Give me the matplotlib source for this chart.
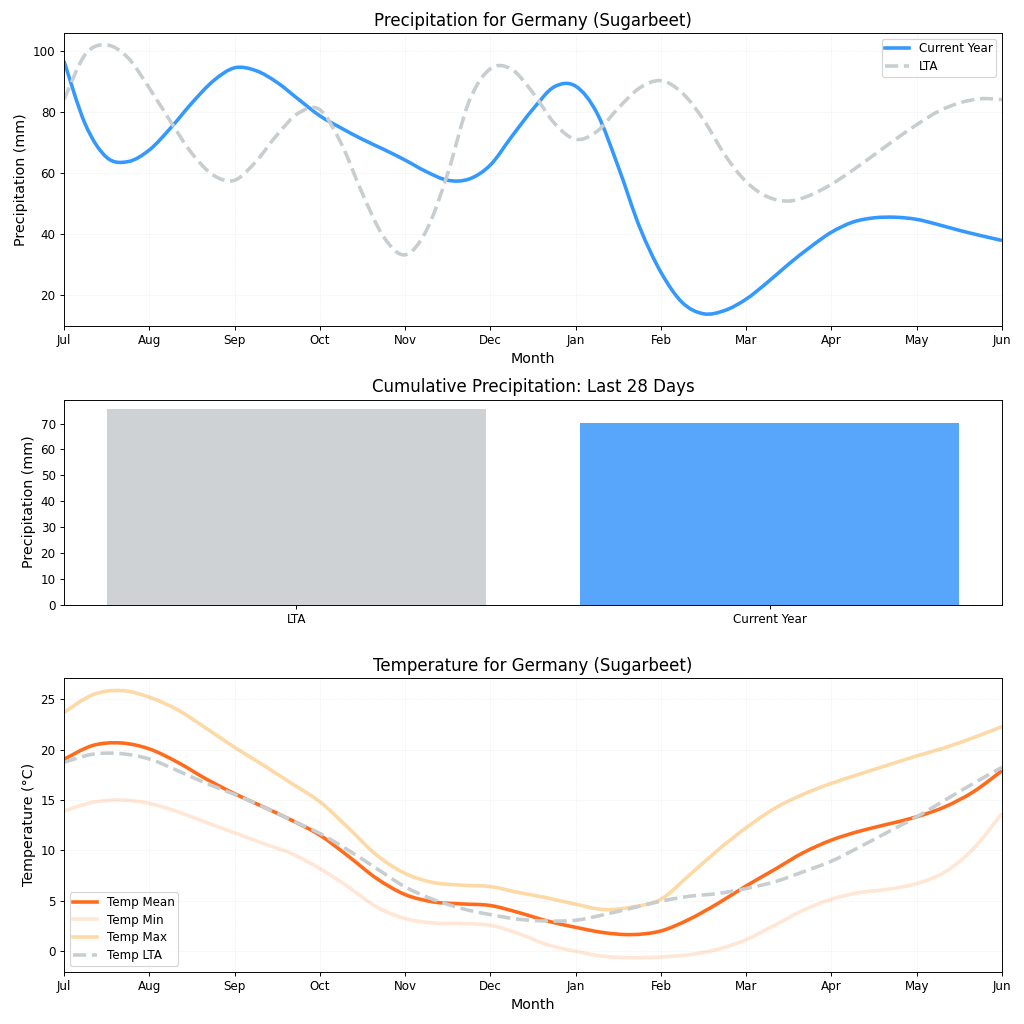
import numpy as np
import matplotlib
matplotlib.use("Agg")
import matplotlib.pyplot as plt
from matplotlib.lines import Line2D
from matplotlib.patches import PathPatch
from matplotlib.path import Path

months = ["Jul", "Aug", "Sep", "Oct", "Nov", "Dec", "Jan", "Feb", "Mar", "Apr", "May", "Jun"]

# precipitation, read every quarter month
precip_current = [96.7, 76.0, 65.2, 63.8, 67.6, 74.8, 83.0, 90.2, 94.5, 93.6, 89.7, 84.2,
                  78.8, 74.8, 71.1, 67.8, 64.3, 60.5, 57.7, 58.1, 62.7, 72.0, 81.0, 88.3,
                  88.5, 79.7, 62.1, 42.4, 27.6, 17.7, 14.0, 15.1, 18.8, 24.3, 30.3, 35.8,
                  40.7, 44.0, 45.4, 45.6, 44.9, 43.2, 41.3, 39.6, 38.0]
precip_lta = [84.1, 98.9, 102.0, 97.8, 87.9, 76.9, 66.5, 59.4, 57.7, 63.8, 72.6, 79.7,
              80.8, 69.8, 53.3, 39.1, 33.3, 41.3, 59.9, 83.5, 94.2, 94.0, 86.3, 76.4,
              71.1, 73.7, 81.3, 87.9, 90.3, 86.3, 77.5, 66.0, 57.2, 52.3, 50.9, 52.8,
              56.4, 61.0, 66.0, 71.1, 75.9, 80.2, 83.0, 84.4, 84.1]

bar_labels = ["LTA", "Current Year"]
bar_values = [75.8, 70.3]

# temperature, read every third of a month
temp_mean = [19.04, 20.4, 20.66, 20.07, 18.74, 17.09, 15.63, 14.34, 13.01, 11.52, 9.44, 7.22,
             5.63, 4.9, 4.7, 4.54, 3.84, 3.01, 2.38, 1.85, 1.66, 2.02, 3.18, 4.74,
             6.49, 8.11, 9.77, 11.03, 11.92, 12.62, 13.34, 14.34, 15.83, 17.91]
temp_min = [13.91, 14.77, 15.0, 14.67, 13.84, 12.78, 11.75, 10.7, 9.7, 8.21, 6.39, 4.4,
            3.25, 2.81, 2.75, 2.58, 1.75, 0.66, 0.0, -0.5, -0.63, -0.56, -0.33, 0.2,
            1.16, 2.58, 4.07, 5.17, 5.83, 6.16, 6.72, 7.88, 10.2, 13.68]
temp_max = [23.68, 25.43, 25.86, 25.2, 23.94, 22.12, 20.23, 18.48, 16.66, 14.83, 12.25, 9.54,
            7.72, 6.82, 6.56, 6.42, 5.83, 5.3, 4.67, 4.14, 4.4, 5.17, 7.55, 10.03,
            12.25, 14.17, 15.56, 16.66, 17.58, 18.48, 19.37, 20.2, 21.19, 22.28]
temp_lta = [18.74, 19.54, 19.6, 19.07, 17.91, 16.66, 15.56, 14.34, 13.01, 11.69, 10.03, 8.21,
            6.39, 5.13, 4.24, 3.64, 3.18, 3.01, 3.08, 3.64, 4.3, 4.97, 5.46, 5.73,
            6.23, 6.89, 7.88, 8.94, 10.36, 11.85, 13.34, 15.0, 16.66, 18.25]

BLUE = "#3399ff"
ORANGE = "#ff6b1a"
GREY = "#c8cdd0"
W = 1024.0
H = 1024.0


def make_axes(left, right, top, bottom):
    return fig.add_axes([left / W, 1 - bottom / H, (right - left) / W, (bottom - top) / H])


def style_months(ax):
    ax.set_xlim(0, 11)
    ax.set_xticks(range(12))
    ax.set_xticklabels(months)
    ax.grid(True, linestyle="--", linewidth=0.5, alpha=0.2)
    ax.set_xlabel("Month", fontsize=12)


def curve(ax, x, y, color, ls="-"):
    # bezier path through the read values, so the line stays round between them
    pts = np.column_stack([x, y])
    ends = np.vstack([pts[0], pts, pts[-1]])
    verts = [pts[0]]
    codes = [Path.MOVETO]
    for i in range(1, len(ends) - 2):
        verts.append(ends[i] + (ends[i + 1] - ends[i - 1]) / 6)
        verts.append(ends[i + 1] - (ends[i + 2] - ends[i]) / 6)
        verts.append(ends[i + 1])
        codes += [Path.CURVE4] * 3
    ax.add_patch(PathPatch(Path(verts, codes), fill=False, edgecolor=color, lw=3, ls=ls,
                           joinstyle="round"))
    return Line2D([], [], color=color, lw=3, ls=ls)


fig = plt.figure(figsize=(12, 12), dpi=1024 / 12)

# top: precipitation
ax1 = make_axes(64, 1002, 33, 326)
q = np.arange(len(precip_current)) / 4
h1 = curve(ax1, q, precip_current, BLUE)
h2 = curve(ax1, q, precip_lta, GREY, "--")
ax1.set_ylim(10, 105.9)
style_months(ax1)
ax1.set_ylabel("Precipitation (mm)", fontsize=12)
ax1.set_title("Precipitation for Germany (Sugarbeet)", fontsize=14)
ax1.legend([h1, h2], ["Current Year", "LTA"], loc="upper right", labelspacing=0.4, borderpad=0.3)

# middle: bars
ax2 = make_axes(64, 1002, 399.5, 604.5)
ax2.bar(bar_labels, bar_values, color=["#ced2d5", "#58a6fb"], width=0.8)
ax2.set_ylim(0, 79.3)
ax2.set_ylabel("Precipitation (mm)", fontsize=12)
ax2.set_title("Cumulative Precipitation: Last 28 Days", fontsize=14)

# bottom: temperature
ax3 = make_axes(64, 1002, 678, 971.5)
t = np.arange(len(temp_mean)) / 3
h3 = curve(ax3, t, temp_mean, ORANGE)
h4 = curve(ax3, t, temp_min, "#ffe6d5")
h5 = curve(ax3, t, temp_max, "#fdd9a5")
h6 = curve(ax3, t, temp_lta, GREY, "--")
ax3.set_ylim(-2, 27.1)
style_months(ax3)
ax3.set_ylabel("Temperature (°C)", fontsize=12)
ax3.set_title("Temperature for Germany (Sugarbeet)", fontsize=14)
ax3.legend([h3, h4, h5, h6], ["Temp Mean", "Temp Min", "Temp Max", "Temp LTA"], loc="lower left",
           labelspacing=0.4, borderpad=0.3)

fig.savefig("out.png", dpi=1024 / 12)
